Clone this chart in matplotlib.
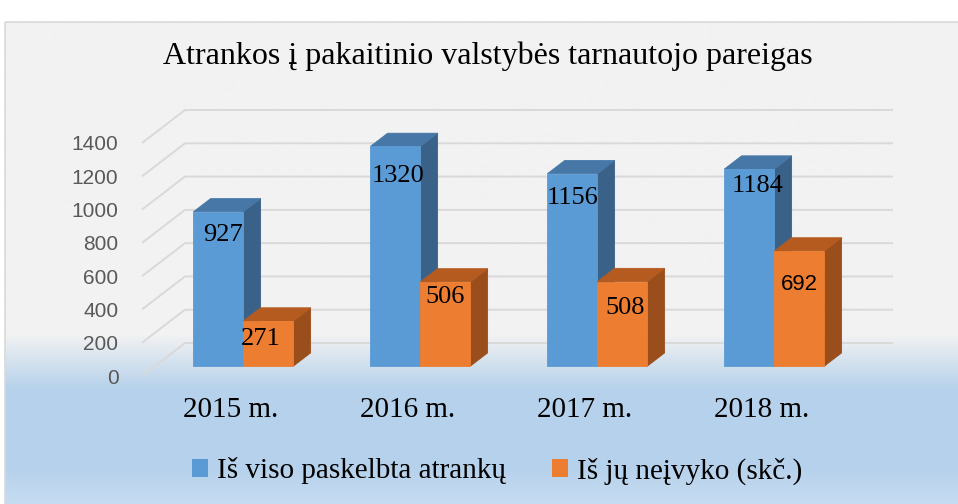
import numpy as np
import matplotlib
matplotlib.use("Agg")
import matplotlib.pyplot as plt
import matplotlib.colors as mcolors
from matplotlib.patches import Polygon, Rectangle, Patch

# data
years = ["2015 m.", "2016 m.", "2017 m.", "2018 m."]
total = [927, 1320, 1156, 1184]
failed = [271, 506, 508, 692]
series_names = ["Iš viso paskelbta atrankų", "Iš jų neįvyko (skč.)"]
yticks = [0, 200, 400, 600, 800, 1000, 1200, 1400]
title = "Atrankos į pakaitinio valstybės tarnautojo pareigas"

W, H = 958, 504
SERIF = "Liberation Serif"
SANS = "Liberation Sans"

fig = plt.figure(figsize=(W / 100, H / 100), dpi=100)

# background (pixel coords)
bg = fig.add_axes([0, 0, 1, 1])
stops_y = [22, 335, 390, 470, 504]
stops_c = ["#F2F2F2", "#F2F2F2", "#B5D1EB", "#B7D2EC", "#C6DCF1"]
rows = np.arange(22, H + 1)
rgb = np.array([mcolors.to_rgb(c) for c in stops_c])
grad = np.stack([np.interp(rows, stops_y, rgb[:, k]) for k in range(3)], axis=-1)
bg.imshow(grad[:, None, :], extent=(5, W, H, 22), aspect="auto", interpolation="bilinear")
bg.add_patch(Rectangle((5, 22), W, H, fill=False, ec="#D9D9D9", lw=1.2))
bg.set_xlim(0, W)
bg.set_ylim(H, 0)
bg.axis("off")

# main axes = front plane of the 3d box
L, R, B, T = 142, 850, 376, 143
ax = fig.add_axes([L / W, 1 - B / H, (R - L) / W, (B - T) / H])
ax.set_xlim(-0.5, 3.5)
ax.set_ylim(0, 1400)
ax.patch.set_alpha(0)
for s in ax.spines.values():
    s.set_visible(False)

px_x = (R - L) / 4.0
px_v = (B - T) / 1400.0
DX = 43 / px_x
DY = 33 / px_v

for v in yticks:
    ax.plot([-0.5, -0.5 + DX, 3.5 + DX], [v, v + DY, v + DY], color="#D9D9D9",
            lw=1.4, clip_on=False, zorder=1, solid_capstyle="butt")

bw = 50 / px_x
z0, z1 = 0.30, 0.70
cols = [("#5B9BD5", "#4677A6", "#3A6289"), ("#ED7D31", "#B55B20", "#9A4E1C")]


def bar3d(x0, v, front, top, side):
    x1 = x0 + bw
    fx0, fx1 = x0 + z0 * DX, x1 + z0 * DX
    bx0, bx1 = x0 + z1 * DX, x1 + z1 * DX
    fy, by = z0 * DY, z1 * DY
    kw = dict(clip_on=False, zorder=3, lw=0.6)
    ax.add_patch(Polygon([(fx1, fy), (bx1, by), (bx1, v + by), (fx1, v + fy)],
                         fc=side, ec=side, **kw))
    ax.add_patch(Polygon([(fx0, v + fy), (fx1, v + fy), (bx1, v + by), (bx0, v + by)],
                         fc=top, ec=top, **kw))
    ax.add_patch(Rectangle((fx0, fy), bw, v, fc=front, ec=front, **kw))
    return (fx0 + fx1) / 2, v + fy


# label nudges in px (dx, dy below top), font
lab_total = [(5, 23), (3, 30), (0, 24), (8, 17)]
lab_failed = [(-8, 18), (0, 15), (3, 26), (0, 34)]
fail_font = [SERIF, SERIF, SERIF, SANS]

for i in range(len(years)):
    cx, cy = bar3d(i - bw, total[i], *cols[0])
    dx, dy = lab_total[i]
    ax.annotate(str(total[i]), (cx, cy), xytext=(dx * 0.72, -dy * 0.72),
                textcoords="offset points", ha="center", va="center",
                family=SERIF, fontsize=19, zorder=5, annotation_clip=False)
    cx, cy = bar3d(i, failed[i], *cols[1])
    dx, dy = lab_failed[i]
    ax.annotate(str(failed[i]), (cx, cy), xytext=(dx * 0.72, -dy * 0.72),
                textcoords="offset points", ha="center", va="center",
                family=fail_font[i], fontsize=19 if fail_font[i] == SERIF else 16,
                zorder=5, annotation_clip=False)

ax.set_yticks(yticks)
ax.set_yticklabels([str(t) for t in yticks], family=SANS, fontsize=15, color="#595959")
ax.set_xticks(range(len(years)))
ax.set_xticklabels(years, family=SERIF, fontsize=21, color="black")
ax.tick_params(axis="y", length=0, pad=17)
ax.tick_params(axis="x", length=0, pad=15)

fig.text(488 / W, 1 - 56 / H, title, ha="center", va="center", family=SERIF, fontsize=23)

handles = [Patch(fc=cols[0][0], ec="none"), Patch(fc=cols[1][0], ec="none")]
fig.legend(handles, series_names, loc="center", bbox_to_anchor=(497 / W, 1 - 471 / H),
           ncol=2, frameon=False, prop=dict(family=SERIF, size=21),
           handlelength=0.55, handleheight=0.55, handletextpad=0.3, columnspacing=1.6)

fig.savefig("out.png", dpi=100)
